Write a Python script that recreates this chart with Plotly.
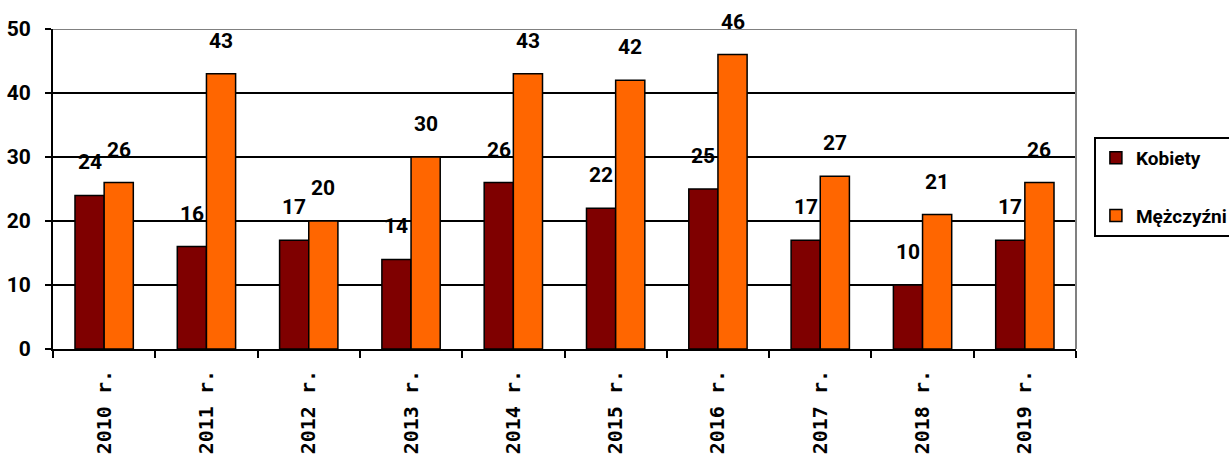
import plotly.graph_objects as go

years = ["2010 r.", "2011 r.", "2012 r.", "2013 r.", "2014 r.",
         "2015 r.", "2016 r.", "2017 r.", "2018 r.", "2019 r."]
kobiety = [24, 16, 17, 14, 26, 22, 25, 17, 10, 17]
mezczyzni = [26, 43, 20, 30, 43, 42, 46, 27, 21, 26]

BARGAP = 0.43
LABEL_FONT = dict(family="Roboto, Lato, sans-serif", size=21, color="black", weight="bold")
LEGEND_FONT = dict(family="Roboto, Lato, sans-serif", size=19, color="black", weight="bold")

fig = go.Figure()
fig.add_trace(go.Bar(name="Kobiety", x=years, y=kobiety, legendgroup="k",
                     marker=dict(color="#7F0000", line=dict(color="black", width=1.5))))
fig.add_trace(go.Bar(name="Mężczyźni", x=years, y=mezczyzni, legendgroup="m",
                     marker=dict(color="#FF6600", line=dict(color="black", width=1.5))))

off = (1 - BARGAP) / 4
annotations = []
for i, (k, m) in enumerate(zip(kobiety, mezczyzni)):
    for dx, v in ((-off, k), (off, m)):
        annotations.append(dict(x=i + dx, y=v, xref="x", yref="y", text=str(v),
                                showarrow=False, yanchor="bottom", yshift=19,
                                font=LABEL_FONT))

fig.update_layout(
    width=1229, height=464,
    margin=dict(l=53, r=153, t=29, b=115, autoexpand=False),
    paper_bgcolor="white", plot_bgcolor="white",
    barmode="group", bargap=BARGAP, bargroupgap=0,
    annotations=annotations,
    showlegend=True,
    legend=dict(x=1.0175, xanchor="left", y=0.663, yanchor="top",
                bordercolor="black", borderwidth=2, bgcolor="white",
                font=LEGEND_FONT, tracegroupgap=30, traceorder="grouped",
                itemwidth=30),
    shapes=[
        dict(type="line", xref="paper", yref="y", x0=0, x1=1, y0=50, y1=50,
             line=dict(color="#808080", width=2), layer="above"),
        dict(type="line", xref="paper", yref="paper", x0=1, x1=1, y0=0, y1=1,
             line=dict(color="#808080", width=2), layer="above"),
    ],
)
fig.update_xaxes(
    type="category", showline=True, linecolor="black", linewidth=2,
    ticks="outside", tickson="boundaries", ticklen=7, tickwidth=2, tickcolor="black",
    tickangle=-90, ticklabelstandoff=11, automargin=False,
    tickfont=dict(family="'DejaVu Sans Mono', 'Liberation Mono', monospace", size=20,
                  color="black", weight="bold"),
    showgrid=False,
)
fig.update_yaxes(
    range=[0, 50], dtick=10, showline=True, linecolor="black", linewidth=2,
    ticks="outside", ticklen=6, tickwidth=2, tickcolor="black",
    showgrid=True, gridcolor="black", gridwidth=2, zeroline=False,
    ticklabelstandoff=10, automargin=False,
    tickfont=LABEL_FONT,
)

fig.write_html("out.html")
